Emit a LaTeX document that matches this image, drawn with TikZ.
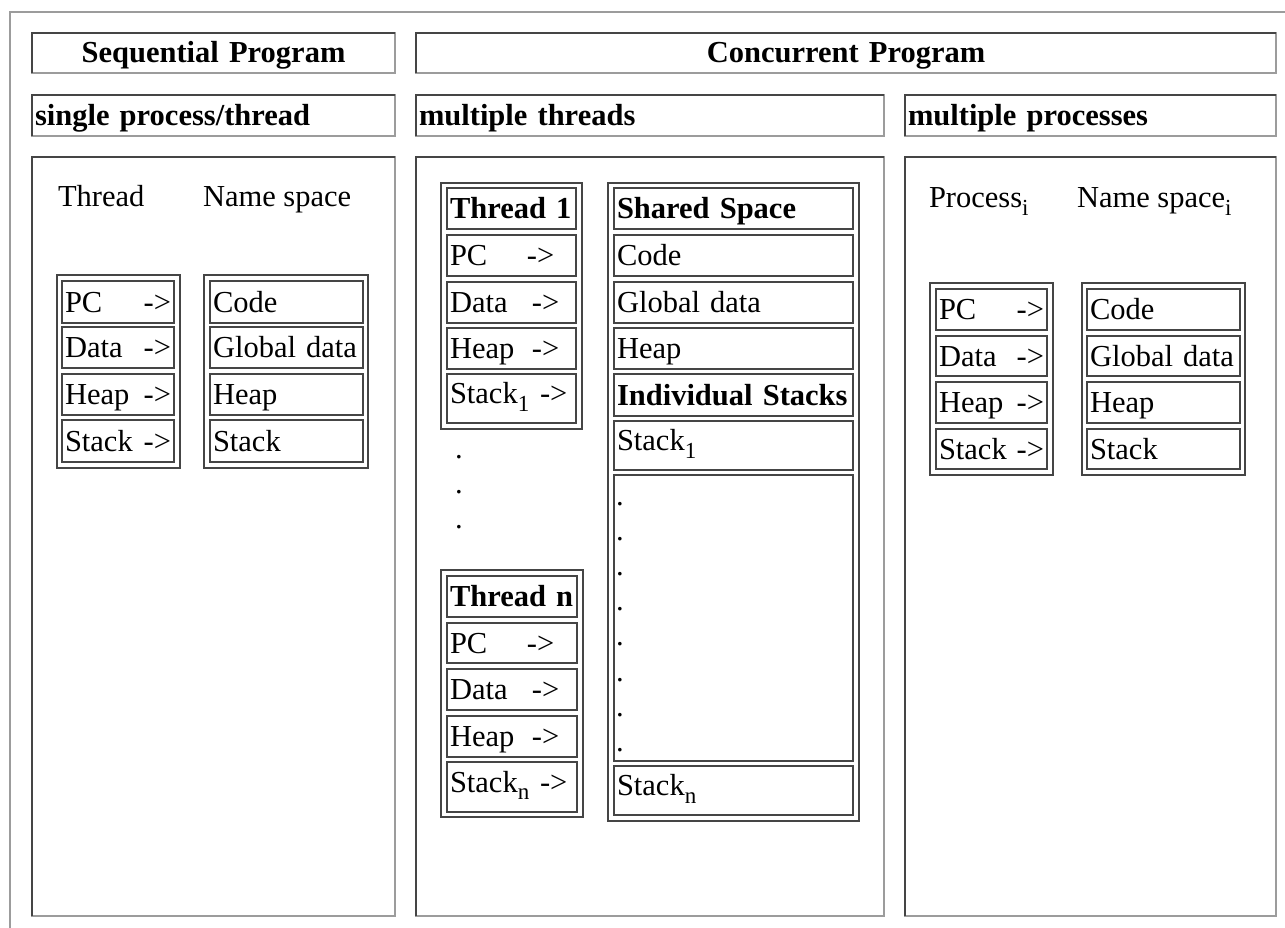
\documentclass[tikz,border=0pt]{standalone}
\usepackage{fontspec}
\setmainfont{Liberation Serif}
\definecolor{lineDark}{HTML}{454545}
\definecolor{lineLight}{HTML}{9C9C9C}
\newcommand\subtxt[1]{\raisebox{-0.25em}{\fontsize{23}{23}\selectfont #1}}
\newcommand\fs{\fontsize{30.5}{36}\selectfont}
\tikzset{
  basest/.style={inner sep=0pt,outer sep=0pt,font=\fs},
  cellst/.style={basest,draw=lineDark,line width=1.3pt,anchor=north west,text height=20pt,text depth=0pt,align=left},
  tblst/.style={basest,draw=lineDark,line width=1.5pt,anchor=north west},
  panelst/.style={basest,draw=lineLight,line width=1.6pt,anchor=north west,text height=20pt,text depth=0pt,align=left},
  darkedge/.style={draw=lineDark,line width=1.6pt},
  lbl/.style={basest,anchor=base west},
  subcell/.style={text depth=10pt}
}
\newcommand\cellbox[7][]{%
  \pgfmathsetmacro\cw{#5-#3}\pgfmathsetmacro\ch{#6-#4}\pgfmathsetmacro\tw{#5-#3-6}%
  \node[cellst,minimum width=\cw pt,minimum height=\ch pt,text width=\tw pt,#1] (#2) at (#3,#4) {#7};}
\newcommand\tblbox[5]{%
  \pgfmathsetmacro\cw{#4-#2}\pgfmathsetmacro\ch{#5-#3}%
  \node[tblst,minimum width=\cw pt,minimum height=\ch pt] (#1) at (#2,#3) {};}
\newcommand\panelbox[7][]{%
  \pgfmathsetmacro\cw{#5-#3}\pgfmathsetmacro\ch{#6-#4}\pgfmathsetmacro\tw{#5-#3-6}%
  \node[panelst,minimum width=\cw pt,minimum height=\ch pt,text width=\tw pt,#1] (#2) at (#3,#4) {#7};
  \draw[darkedge] (#2.south west) -- (#2.north west) -- (#2.north east);}
\begin{document}
\begin{tikzpicture}[x=1pt,y=-1pt]
\useasboundingbox (0,0) rectangle (1285,928);
\fill[white] (0,0) rectangle (1285,928);
\draw[lineLight,line width=2pt] (10,928) -- (10,12) -- (1285,12);
% headers
\panelbox[align=center]{hSeq}{32}{33}{395}{73}{\bfseries Sequential Program}
\panelbox[align=center]{hCon}{416}{33}{1276}{73}{\bfseries Concurrent Program}
\panelbox{sSin}{32}{95}{395}{136}{\bfseries single process/thread}
\panelbox{sThr}{416}{95}{884}{136}{\bfseries multiple threads}
\panelbox{sPro}{905}{95}{1276}{136}{\bfseries multiple processes}
% panels
\panelbox{pL}{32}{157}{395}{916}{}
\panelbox{pM}{416}{157}{884}{916}{}
\panelbox{pR}{905}{157}{1276}{916}{}
% left panel
\node[lbl] (lThr) at (58,207) {Thread};
\node[lbl] (lNs) at (203,207) {Name space};
\tblbox{lT}{57}{275}{180}{468}
\cellbox{lT1}{62}{281}{174}{323}{PC\hfill->}
\cellbox{lT2}{62}{327}{174}{368}{Data\hfill->}
\cellbox{lT3}{62}{374}{174}{415}{Heap\hfill->}
\cellbox{lT4}{62}{420}{174}{462}{Stack\hfill->}
\tblbox{lN}{204}{275}{368}{468}
\cellbox{lN1}{210}{281}{363}{323}{Code}
\cellbox{lN2}{210}{327}{363}{368}{Global data}
\cellbox{lN3}{210}{374}{363}{415}{Heap}
\cellbox{lN4}{210}{420}{363}{462}{Stack}
% middle panel: thread 1
\tblbox{mA}{441}{183}{582}{429}
\cellbox{mA0}{447}{188}{576}{229}{\bfseries Thread 1}
\cellbox{mA1}{447}{235}{576}{276}{\makebox[77pt][l]{PC}->}
\cellbox{mA2}{447}{282}{576}{323}{\makebox[82pt][l]{Data}->}
\cellbox{mA3}{447}{328}{576}{369}{\makebox[82pt][l]{Heap}->}
\cellbox[subcell]{mA4}{447}{374}{576}{423}{\makebox[90pt][l]{Stack\subtxt{1}}->}
% dots between threads
\foreach \yy [count=\i] in {458.5,493.5,528.5}
  \node[lbl] (ld\i) at (455,\yy) {.};
% thread n
\tblbox{mC}{441}{570}{583}{817}
\cellbox{mC0}{447}{576}{577}{617}{\bfseries Thread n}
\cellbox{mC1}{447}{623}{577}{663}{\makebox[77pt][l]{PC}->}
\cellbox{mC2}{447}{669}{577}{710}{\makebox[82pt][l]{Data}->}
\cellbox{mC3}{447}{716}{577}{757}{\makebox[82pt][l]{Heap}->}
\cellbox[subcell]{mC4}{447}{762}{577}{812}{\makebox[90pt][l]{Stack\subtxt{n}}->}
% shared space
\tblbox{mB}{608}{183}{859}{821}
\cellbox{mB0}{614}{188}{853}{229}{\bfseries Shared Space}
\cellbox{mB1}{614}{235}{853}{276}{Code}
\cellbox{mB2}{614}{282}{853}{323}{Global data}
\cellbox{mB3}{614}{328}{853}{369}{Heap}
\cellbox{mB4}{614}{374}{853}{416}{\bfseries Individual Stacks}
\cellbox[subcell]{mB5}{614}{421}{853}{470}{Stack\subtxt{1}}
\cellbox{mB6}{614}{475}{853}{761}{}
\cellbox[subcell]{mB7}{614}{766}{853}{815}{Stack\subtxt{n}}
\foreach \i in {0,...,7}
  \node[lbl] (rd\i) at (616,505.5+35.1*\i) {.};
% right panel
\node[lbl] (rPr) at (929,208) {Process\subtxt{i}};
\node[lbl] (rNs) at (1077,208) {Name space\subtxt{i}};
\tblbox{rP}{930}{283}{1053}{475}
\cellbox{rP1}{936}{289}{1047}{330}{PC\hfill->}
\cellbox{rP2}{936}{336}{1047}{376}{Data\hfill->}
\cellbox{rP3}{936}{382}{1047}{423}{Heap\hfill->}
\cellbox{rP4}{936}{429}{1047}{469}{Stack\hfill->}
\tblbox{rN}{1082}{283}{1245}{475}
\cellbox{rN1}{1087}{289}{1240}{330}{Code}
\cellbox{rN2}{1087}{336}{1240}{376}{Global data}
\cellbox{rN3}{1087}{382}{1240}{423}{Heap}
\cellbox{rN4}{1087}{429}{1240}{469}{Stack}
\end{tikzpicture}
\end{document}
